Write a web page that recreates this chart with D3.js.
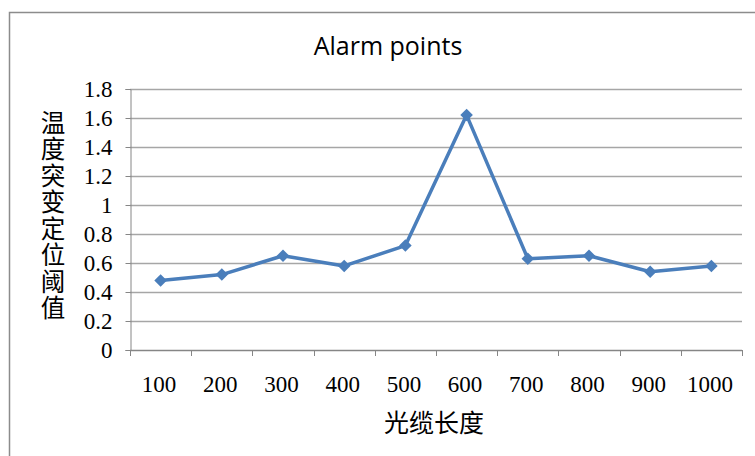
<!DOCTYPE html>
<html>
<head>
<meta charset="utf-8">
<script src="https://cdn.jsdelivr.net/npm/d3@7"></script>
<style>
  html, body { margin: 0; padding: 0; background: #fff; }
  svg { display: block; }
</style>
</head>
<body>
<svg id="chart" width="755" height="456"></svg>
<script>
// Cable length categories and the detected temperature-change threshold at each
const categories = ["100", "200", "300", "400", "500", "600", "700", "800", "900", "1000"];
const thresholds = [0.48, 0.52, 0.65, 0.58, 0.72, 1.62, 0.63, 0.65, 0.54, 0.58];
const yTicks = [0, 0.2, 0.4, 0.6, 0.8, 1, 1.2, 1.4, 1.6, 1.8];
const title = "Alarm points";
const xTitle = "光缆长度";
const yTitle = "温度突变定位阈值";

const svg = d3.select("#chart");
const W = 755, H = 456;
const plot = { left: 130, right: 742, top: 89, bottom: 350 };
const serif = "'Liberation Serif', 'Times New Roman', serif";
const cjk = "'Noto Sans CJK SC', sans-serif";

// Outer chart frame
svg.append("rect")
  .attr("x", 9.5).attr("y", 12.5)
  .attr("width", W + 20).attr("height", H + 20)
  .attr("fill", "#fff").attr("stroke", "#8c8c8c").attr("stroke-width", 1.5);

const x = d3.scaleBand().domain(categories).range([plot.left, plot.right]).padding(0);
const y = d3.scaleLinear().domain([0, 1.8]).range([plot.bottom, plot.top]);

// Horizontal gridlines
svg.append("g").selectAll("line").data(yTicks.filter(d => d > 0)).join("line")
  .attr("x1", plot.left).attr("x2", plot.right)
  .attr("y1", d => Math.round(y(d)) + 0.5).attr("y2", d => Math.round(y(d)) + 0.5)
  .attr("stroke", "#a6a6a6").attr("stroke-width", 1.3);

// Y axis
const yAxis = svg.append("g")
  .attr("transform", `translate(${plot.left + 0.5},0)`)
  .call(d3.axisLeft(y).tickValues(yTicks).tickSize(5).tickPadding(13).tickFormat(d3.format("~g")));
yAxis.select(".domain").attr("stroke", "#868686");
yAxis.selectAll(".tick line").attr("stroke", "#868686");
yAxis.selectAll(".tick text")
  .attr("fill", "#000")
  .style("font-family", serif)
  .style("font-size", "23px");

// X axis with ticks at category boundaries
const boundaries = categories.map(c => x(c)).concat([plot.right]);
const xg = svg.append("g");
xg.append("line")
  .attr("x1", plot.left).attr("x2", plot.right)
  .attr("y1", plot.bottom + 0.5).attr("y2", plot.bottom + 0.5)
  .attr("stroke", "#868686").attr("stroke-width", 1.3);
xg.selectAll("line.tk").data(boundaries).join("line").attr("class", "tk")
  .attr("x1", d => Math.round(d) + 0.5).attr("x2", d => Math.round(d) + 0.5)
  .attr("y1", plot.bottom).attr("y2", plot.bottom + 6)
  .attr("stroke", "#868686");
xg.selectAll("text").data(categories).join("text")
  .attr("x", d => x(d) + x.bandwidth() / 2 - 1.5)
  .attr("y", 392)
  .attr("text-anchor", "middle")
  .style("font-family", serif)
  .style("font-size", "23px")
  .attr("fill", "#000")
  .text(d => d);

// Title
svg.append("text")
  .attr("x", 388).attr("y", 55)
  .attr("text-anchor", "middle")
  .style("font-family", "'Open Sans', sans-serif")
  .style("font-size", "25px")
  .attr("fill", "#000")
  .text(title);

// Axis titles
svg.append("text")
  .attr("x", 434).attr("y", 432)
  .attr("text-anchor", "middle")
  .style("font-family", cjk)
  .style("font-size", "25px")
  .attr("fill", "#000")
  .text(xTitle);

svg.append("text")
  .attr("x", 53).attr("y", 110)
  .style("writing-mode", "vertical-rl")
  .style("text-orientation", "upright")
  .style("letter-spacing", "2px")
  .style("font-family", cjk)
  .style("font-size", "24.5px")
  .attr("fill", "#000")
  .text(yTitle);

// Series line and diamond markers
const pts = categories.map((c, i) => [x(c) + x.bandwidth() / 2, y(thresholds[i])]);
svg.append("path")
  .attr("d", d3.line()(pts))
  .attr("fill", "none")
  .attr("stroke", "#4a7ebb")
  .attr("stroke-width", 3.5)
  .attr("stroke-linejoin", "round");

svg.append("g").selectAll("path").data(pts).join("path")
  .attr("transform", d => `translate(${d[0]},${d[1]})`)
  .attr("d", d3.symbol().type(d3.symbolDiamond2).size(100))
  .attr("fill", "#4a7ebb");
</script>
</body>
</html>
